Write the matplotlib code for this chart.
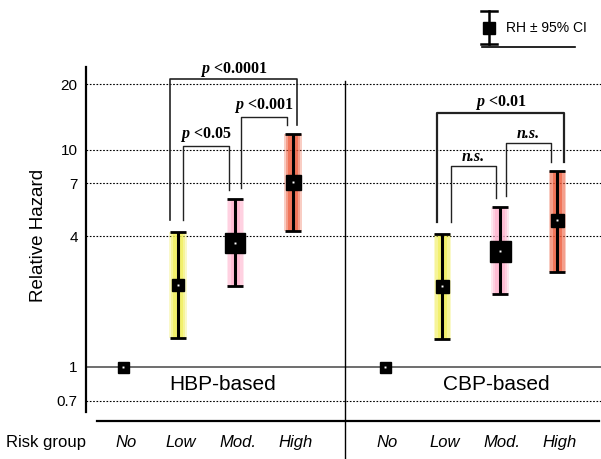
import matplotlib
matplotlib.use('Agg')

import numpy as np
import matplotlib.pyplot as plt
from matplotlib.lines import Line2D

plt.rcParams['mathtext.fontset'] = 'custom'
plt.rcParams['mathtext.bfit'] = 'Liberation Serif:italic:bold'
plt.rcParams['mathtext.it'] = 'Liberation Serif:italic'
plt.rcParams['mathtext.rm'] = 'Liberation Serif'

# data
groups = ['No', 'Low', 'Mod.', 'High']
hbp_rh = [1.0, 2.38, 3.73, 7.09]
hbp_lo = [np.nan, 1.36, 2.36, 4.23]
hbp_hi = [np.nan, 4.18, 5.92, 11.8]
cbp_rh = [1.0, 2.36, 3.43, 4.74]
cbp_lo = [np.nan, 1.34, 2.17, 2.74]
cbp_hi = [np.nan, 4.10, 5.42, 8.0]
hbp_p = ['<0.05', '<0.001', '<0.0001']
cbp_p = ['n.s.', 'n.s.', '<0.01']
yticks = [0.7, 1, 4, 7, 10, 20]
ytick_labels = ['0.7', '1', '4', '7', '10', '20']

# layout / style
hbp_x = [0.65, 1.6, 2.6, 3.6]
cbp_x = [5.2, 6.2, 7.2, 8.2]
marker_px = {'hbp': [11, 12, 20, 15], 'cbp': [11, 13, 21, 13]}
band_colors = [None, '#f0ee50', '#ffb0cc', '#ee5a3a']
SANS = 'Liberation Sans'
SERIF = 'Liberation Serif'

W, H = 601, 459
fig = plt.figure(figsize=(W / 100, H / 100), dpi=100)
ax = fig.add_axes([86 / W, 1 - 412 / H, 515 / W, 345 / H])
ax.set_yscale('log')
ax.set_ylim(0.62, 24)
ax.set_xlim(0, 8.957)

for s in ['top', 'right', 'bottom']:
    ax.spines[s].set_visible(False)
ax.spines['left'].set_linewidth(1.6)
ax.set_xticks([])
ax.set_yticks(yticks)
ax.set_yticklabels(ytick_labels, fontfamily=SANS, fontsize=11)
ax.yaxis.set_minor_locator(matplotlib.ticker.NullLocator())
ax.tick_params(axis='y', length=0, pad=6)
ax.set_ylabel('Relative Hazard', fontfamily=SANS, fontsize=13.5)
ax.yaxis.set_label_coords(-0.076, 0.513)

for v in yticks:
    if v == 1:
        ax.axhline(v, color='#555555', lw=1.2, zorder=1)
    else:
        ax.axhline(v, color='black', lw=0.8, ls=(0, (1.5, 1.5)), zorder=1)


def draw_set(xs, rh, lo, hi, sizes):
    rh = np.array(rh); lo = np.array(lo); hi = np.array(hi)
    for i in range(1, len(xs)):
        for w, a in [(0.31, 0.3), (0.25, 0.4), (0.17, 0.6)]:
            ax.bar(xs[i], hi[i] - lo[i], bottom=lo[i], width=w,
                   color=band_colors[i], alpha=a, lw=0, zorder=2)
    ci = slice(1, None)
    ax.errorbar(np.array(xs)[ci], rh[ci], yerr=[rh[ci] - lo[ci], hi[ci] - rh[ci]],
                fmt='none', ecolor='black', elinewidth=2.2, capsize=6, capthick=2, zorder=3)
    for x, y, px in zip(xs, rh, sizes):
        ax.plot(x, y, marker='s', ms=px * 0.72, color='black', zorder=4)
        ax.plot(x, y, marker='s', ms=1.4, color='white', mew=0, zorder=5)


draw_set(hbp_x, hbp_rh, hbp_lo, hbp_hi, marker_px['hbp'])
draw_set(cbp_x, cbp_rh, cbp_lo, cbp_hi, marker_px['cbp'])


def bracket(xs, hi, i, j, top, dl, dr, label, lw, text_y):
    x1, x2 = xs[i] + dl, xs[j] + dr
    y1, y2 = hi[i] * 1.13, hi[j] * 1.1
    ax.plot([x1, x1, x2, x2], [y1, top, top, y2], color='#222222', lw=lw, zorder=3,
            clip_on=False)
    xm = (x1 + x2) / 2
    if label.startswith('<'):
        ax.text(xm, text_y, r'$\mathbfit{p}$ ' + label, ha='center', va='center',
                fontfamily=SERIF, fontsize=11.5, fontweight='bold')
    else:
        ax.text(xm, text_y, label, ha='center', va='center', fontfamily=SERIF,
                fontsize=11.5, fontweight='bold', style='italic')


# HBP brackets
bracket(hbp_x, hbp_hi, 1, 2, 10.4, 0.09, -0.11, hbp_p[0], 1.0, 11.7)
bracket(hbp_x, hbp_hi, 2, 3, 14.1, 0.1, -0.1, hbp_p[1], 1.0, 16.0)
bracket(hbp_x, hbp_hi, 1, 3, 21.1, -0.14, 0.07, hbp_p[2], 1.2, 23.4)
# CBP brackets
bracket(cbp_x, cbp_hi, 1, 2, 8.43, 0.14, -0.07, cbp_p[0], 1.0, 9.2)
bracket(cbp_x, cbp_hi, 2, 3, 10.75, 0.1, -0.11, cbp_p[1], 1.0, 11.8)
bracket(cbp_x, cbp_hi, 1, 3, 14.7, -0.1, 0.11, cbp_p[2], 1.6, 16.4)

ax.text(2.38, 0.826, 'HBP-based', ha='center', va='center', fontfamily=SANS, fontsize=15)
ax.text(7.13, 0.826, 'CBP-based', ha='center', va='center', fontfamily=SANS, fontsize=15)

# risk group row
xt = ax.get_xaxis_transform()
ax.text(-0.078, -0.087, 'Risk group', transform=ax.transAxes, ha='center', va='center',
        fontfamily=SANS, fontsize=12)
for x, g in zip(hbp_x + cbp_x, groups + groups):
    ax.text(x + 0.04, -0.087, g, transform=xt, ha='center', va='center',
            fontfamily=SANS, fontsize=12, style='italic')


def fx(px):
    return px / W


def fy(py):
    return 1 - py / H


# divider and baseline rule
fig.add_artist(Line2D([fx(345), fx(345)], [fy(81), fy(459)], color='black', lw=1.0))
fig.add_artist(Line2D([fx(97), fx(599)], [fy(421), fy(421)], color='black', lw=1.6))

# legend
fig.add_artist(Line2D([fx(489), fx(489)], [fy(11), fy(44)], color='black', lw=1.8))
for yy in (11, 44):
    fig.add_artist(Line2D([fx(481), fx(497)], [fy(yy), fy(yy)], color='black', lw=1.8))
fig.add_artist(Line2D([fx(489)], [fy(28)], marker='s', ms=9, color='black', lw=0))
fig.text(fx(506), fy(28), 'RH ± 95% CI', ha='left', va='center', fontfamily=SANS, fontsize=10)
fig.add_artist(Line2D([fx(482), fx(575)], [fy(47), fy(47)], color='black', lw=1.2))

fig.savefig('out.png', dpi=100)
